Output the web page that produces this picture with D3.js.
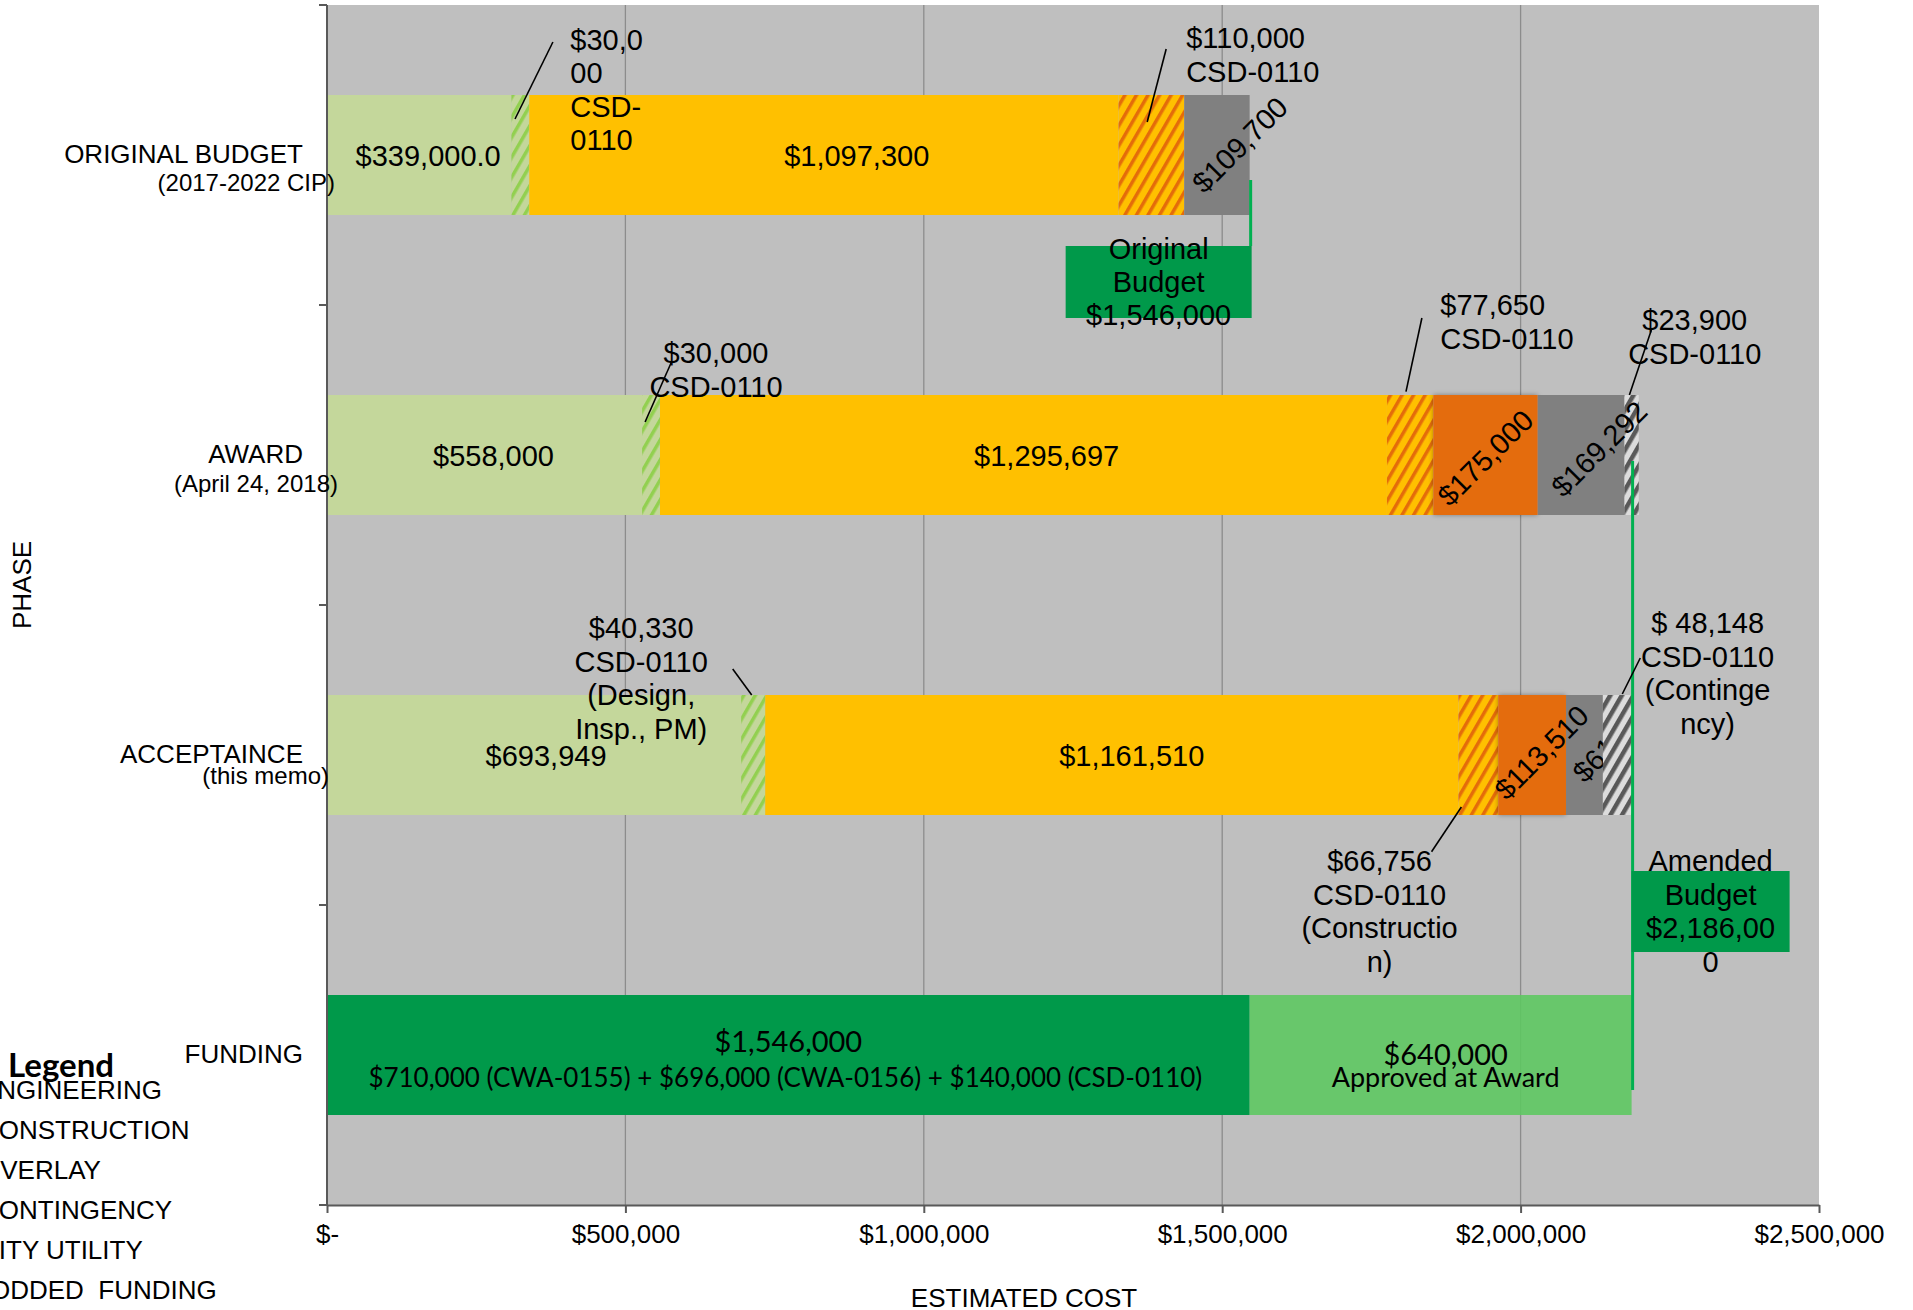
<!DOCTYPE html>
<html>
<head>
<meta charset="utf-8">
<script src="https://cdn.jsdelivr.net/npm/d3@7"></script>
<style>
  html, body { margin: 0; padding: 0; background: #fff; }
  svg { display: block; }
  text { font-family: "Liberation Sans", Arial, sans-serif; fill: #000; white-space: pre; }
  .cal { font-family: Lato, "Open Sans", sans-serif; }
</style>
</head>
<body>
<svg id="chart" width="1913" height="1310"></svg>
<script>
// ---- data -------------------------------------------------------------
const phases = ["ORIGINAL BUDGET", "AWARD", "ACCEPTAINCE", "FUNDING"];
const phaseNotes = ["(2017-2022 CIP)", "(April 24, 2018)", "(this memo)", ""];

// cost breakdown per phase (ORIGINAL BUDGET, AWARD, ACCEPTAINCE)
const engineering     = [339000, 558000, 693949];
const engineeringCSD  = [30000, 30000, 40330];
const construction    = [1097300, 1295697, 1161510];
const constructionCSD = [110000, 77650, 66756];
const overlay         = [0, 175000, 113510];
const contingency     = [109700, 169292, 61797];
const contingencyCSD  = [0, 23900, 48148];
// true when the CSD-0110 share is already part of the labelled amount
const csdIncluded     = [true, true, false];
const engDecimals     = [1, 0, 0];

const fundingSources  = [710000, 696000, 140000];
const fundingCodes    = ["CWA-0155", "CWA-0156", "CSD-0110"];
const fundingAdded    = 640000;
const originalBudget  = 1546000;
const amendedBudget   = 2186000;

const xTicks      = [0, 500000, 1000000, 1500000, 2000000, 2500000];
const xTickLabels = ["$-", "$500,000", "$1,000,000", "$1,500,000", "$2,000,000", "$2,500,000"];
const legendItems = ["ENGINEERING", "CONSTRUCTION", "OVERLAY", "CONTINGENCY", "CITY UTILITY", "ODDED  FUNDING"];

// ---- setup ------------------------------------------------------------
const svg = d3.select("#chart");
const x = d3.scaleLinear().domain([0, 2500000]).range([327, 1819]);
const y = d3.scaleBand().domain(phases).range([5, 1205]).padding(0);
const barH = y.bandwidth() * 0.4;
const yc = p => y(p) + y.bandwidth() / 2;
const fmt = d3.format("$,");
const money = (v, dec) => dec ? d3.format("$,." + dec + "f")(v) : fmt(v);

const colors = { engineering: "#C4D79B", construction: "#FFC000", overlay: "#E46C0A", contingency: "#808080" };
const hatchBase = { engineering: "#C4D79B", construction: "#FFC000", contingency: "#DCDCDC" };
const hatchStripe = { engineering: "#92D050", construction: "#E46C0A", contingency: "#595959" };
const hatchWidth = { engineering: 3.5, construction: 3.5, contingency: 4.5 };
const darkGreen = "#00994A", lineGreen = "#00B050";

const defs = svg.append("defs");
Object.keys(hatchStripe).forEach(k => {
  const p = defs.append("pattern").attr("id", "hatch-" + k)
    .attr("patternUnits", "userSpaceOnUse").attr("width", 10).attr("height", 10)
    .attr("patternTransform", "rotate(30)");
  p.append("rect").attr("width", 10).attr("height", 10).attr("fill", hatchBase[k]);
  p.append("rect").attr("width", hatchWidth[k]).attr("height", 10).attr("fill", hatchStripe[k]);
});
const sh = defs.append("filter").attr("id", "soft").attr("x", "-20%").attr("y", "-20%")
  .attr("width", "140%").attr("height", "140%");
sh.append("feDropShadow").attr("dx", 0).attr("dy", 0).attr("stdDeviation", 2.5)
  .attr("flood-color", "#000").attr("flood-opacity", 0.35);

// text measuring for wrapped labels
const meas = svg.append("text").attr("font-size", 29).attr("visibility", "hidden");
const textW = s => { meas.text(s); return meas.node().getComputedTextLength(); };
function wrapLines(text, width) {
  const lines = [];
  let cur = "";
  text.split(" ").forEach(w => {
    const trial = cur ? cur + " " + w : w;
    if (textW(trial) <= width) { cur = trial; return; }
    if (cur) { lines.push(cur); cur = ""; }
    let piece = "";
    for (const ch of w) {
      if (textW(piece + ch) <= width) piece += ch;
      else { lines.push(piece); piece = ch; }
    }
    cur = piece;
  });
  if (cur) lines.push(cur);
  return lines;
}

// ---- plot area --------------------------------------------------------
svg.append("rect").attr("x", x(0)).attr("y", 5).attr("width", x(2500000) - x(0)).attr("height", 1200)
  .attr("fill", "#BFBFBF");
svg.append("g").selectAll("line").data(xTicks.slice(1, -1)).join("line")
  .attr("x1", d => x(d)).attr("x2", d => x(d)).attr("y1", 5).attr("y2", 1205)
  .attr("stroke", "#8C8C8C").attr("stroke-width", 1.3);

// ---- stacked cost bars ------------------------------------------------
const keys = ["engineering", "construction", "overlay", "contingency"];
const totals = { engineering, construction, overlay, contingency };
const csdShare = { engineering: engineeringCSD, construction: constructionCSD, overlay: [0, 0, 0], contingency: contingencyCSD };
const segs = [], spans = [];
phases.slice(0, 3).forEach((p, i) => {
  let run = 0;
  keys.forEach(k => {
    const v = totals[k][i], c = csdShare[k][i];
    if (!v) return;
    const solid = csdIncluded[i] ? v - c : v;
    const start = run;
    segs.push({ phase: p, i, key: k, v0: run, v1: run + solid, hatch: false });
    run += solid;
    if (c) { segs.push({ phase: p, i, key: k, v0: run, v1: run + c, hatch: true }); run += c; }
    spans.push({ phase: p, i, key: k, v0: start, v1: run, solidEnd: start + solid, value: v, csd: c });
  });
});

svg.append("g").selectAll("rect").data(segs).join("rect")
  .attr("x", d => x(d.v0)).attr("width", d => x(d.v1) - x(d.v0))
  .attr("y", d => yc(d.phase) - barH / 2).attr("height", barH)
  .attr("fill", d => d.hatch ? `url(#hatch-${d.key})` : colors[d.key])
  .attr("filter", d => d.key === "overlay" ? "url(#soft)" : null);

// funding bar
const fundingTotal = d3.sum(fundingSources);
const fy = yc("FUNDING");
svg.append("rect").attr("x", x(0)).attr("width", x(fundingTotal) - x(0))
  .attr("y", fy - barH / 2).attr("height", barH).attr("fill", darkGreen);
svg.append("rect").attr("x", x(fundingTotal)).attr("width", x(fundingTotal + fundingAdded) - x(fundingTotal))
  .attr("y", fy - barH / 2).attr("height", barH).attr("fill", "#5CC860").attr("fill-opacity", 0.88);

// ---- axes -------------------------------------------------------------
const axisColor = "#595959";
svg.append("line").attr("x1", x(0)).attr("x2", x(0)).attr("y1", 5).attr("y2", 1205)
  .attr("stroke", axisColor).attr("stroke-width", 2);
svg.append("g").selectAll("line").data([...phases.map(p => y(p)), 1205]).join("line")
  .attr("x1", x(0) - 8).attr("x2", x(0)).attr("y1", d => d).attr("y2", d => d)
  .attr("stroke", axisColor).attr("stroke-width", 2);

const xAxis = svg.append("g").attr("transform", "translate(0,1205)")
  .call(d3.axisBottom(x).tickValues(xTicks).tickFormat((d, i) => xTickLabels[i]).tickSize(8).tickSizeOuter(0));
xAxis.select(".domain").attr("stroke", axisColor).attr("stroke-width", 2);
xAxis.selectAll(".tick line").attr("stroke", axisColor).attr("stroke-width", 2);
xAxis.selectAll(".tick text").attr("font-size", 26).attr("font-family", "Liberation Sans, Arial, sans-serif")
  .attr("fill", "#000").attr("y", 38).attr("dy", null);

// ---- budget markers ---------------------------------------------------
const boxes = [
  { value: originalBudget, title: "Original Budget", wrap: 170, side: "left", w: 186,
    top: yc(phases[0]) + 91, h: 72, lineFrom: yc(phases[0]) + 25, lineTo: yc(phases[0]) + 91, lh: 33, textTop: 13 },
  { value: amendedBudget, title: "Amended Budget", wrap: 140, side: "right", w: 158,
    top: yc(phases[2]) + 116, h: 81, lineFrom: yc(phases[1]) + 6, lineTo: fy + 35, lh: 33.7, textTop: 0 }
];
boxes.forEach(b => {
  const xv = x(b.value);
  const bx = b.side === "left" ? xv + 2 - b.w : xv;
  svg.append("line").attr("x1", xv + 1).attr("x2", xv + 1).attr("y1", b.lineFrom).attr("y2", b.lineTo)
    .attr("stroke", lineGreen).attr("stroke-width", 3);
  svg.append("rect").attr("x", bx).attr("y", b.top).attr("width", b.w).attr("height", b.h).attr("fill", darkGreen);
  const lines = wrapLines(b.title + " " + fmt(b.value), b.wrap);
  svg.append("text").attr("font-size", 29).attr("text-anchor", "middle")
    .selectAll("tspan").data(lines).join("tspan")
    .attr("x", bx + b.w / 2).attr("y", (d, k) => b.top + b.textTop + k * b.lh).text(d => d);
});

// ---- value labels -----------------------------------------------------
const labelG = svg.append("g").attr("font-size", 29);
spans.filter(s => s.key === "engineering" || s.key === "construction").forEach(s => {
  labelG.append("text").attr("text-anchor", "middle")
    .attr("x", (x(s.v0) + x(s.v1)) / 2).attr("y", yc(s.phase) + 10.5)
    .text(money(s.value, s.key === "engineering" ? engDecimals[s.i] : 0));
});

const rotOffsets = { overlay: [null, [0, 3], [9.5, -2.5]], contingency: [[23, -10], [11, -6], [16, -15]] };
spans.filter(s => s.key === "overlay" || s.key === "contingency").forEach((s, n) => {
  const off = rotOffsets[s.key][s.i];
  const cx = x((s.v0 + s.v1) / 2) + off[0], cy = yc(s.phase) + off[1];
  let clip = null;
  if (!csdIncluded[s.i] && s.csd) {
    const id = "clip-" + n;
    defs.append("clipPath").attr("id", id).append("rect")
      .attr("x", x(s.v0)).attr("width", x(s.solidEnd) - x(s.v0))
      .attr("y", yc(s.phase) - barH / 2 - 40).attr("height", barH + 80);
    clip = `url(#${id})`;
  }
  labelG.append("g").attr("clip-path", clip).append("text")
    .attr("text-anchor", "middle").attr("dominant-baseline", "central")
    .attr("transform", `translate(${cx},${cy}) rotate(-45)`)
    .text(fmt(s.value));
});

// ---- CSD-0110 callouts ------------------------------------------------
const csdCode = "CSD-0110";
const callouts = [
  { i: 0, key: "engineering",  wrap: 75,  anchor: "start",  lx: 41,     ly: -105.5, near: [-14.3, -36],  far: [23.6, -113] },
  { i: 0, key: "construction", wrap: 140, anchor: "start",  lx: 2,      ly: -107,   near: [-37, -33],    far: [-18, -106] },
  { i: 1, key: "engineering",  wrap: 140, anchor: "middle", lx: 56,     ly: -92,    near: [-16.5, -33],  far: [11, -92] },
  { i: 1, key: "construction", wrap: 140, anchor: "start",  lx: 7,      ly: -140,   near: [-27.3, -63.3], far: [-11.4, -137] },
  { i: 1, key: "contingency",  wrap: 140, anchor: "middle", lx: 56,     ly: -125,   near: [-9.4, -60],   far: [12.6, -125] },
  { i: 2, key: "engineering",  wrap: 140, anchor: "middle", lx: -124,   ly: -117,   near: [-13.5, -60],  far: [-32.5, -86], note: "(Design, Insp., PM)" },
  { i: 2, key: "construction", wrap: 160, anchor: "middle", lx: -118.7, ly: 116,    near: [-47.2, 52],   far: [-66.7, 96.7], note: "(Construction)" },
  { i: 2, key: "contingency",  wrap: 137, anchor: "middle", lx: 76,     ly: -122,   near: [-9.3, -61],   far: [8.7, -97], note: "(Contingency)", spaced: true }
];
const calloutG = svg.append("g");
callouts.forEach(c => {
  const s = spans.find(d => d.i === c.i && d.key === c.key);
  const xe = x(s.v1), cy = yc(s.phase);
  const amount = c.spaced ? "$ " + d3.format(",")(s.csd) : fmt(s.csd);
  const lines = wrapLines([amount, csdCode, c.note].filter(Boolean).join(" "), c.wrap);
  calloutG.append("text").attr("font-size", 29).attr("text-anchor", c.anchor)
    .selectAll("tspan").data(lines).join("tspan")
    .attr("x", xe + c.lx).attr("y", (d, k) => cy + c.ly + k * 33.5).text(d => d);
  const nx = Math.max(x(s.solidEnd) + 3, xe + c.near[0]);
  calloutG.append("line").attr("x1", nx).attr("y1", cy + c.near[1])
    .attr("x2", xe + c.far[0]).attr("y2", cy + c.far[1])
    .attr("stroke", "#000").attr("stroke-width", 1.6);
});

// ---- funding labels ---------------------------------------------------
svg.append("text").attr("class", "cal").attr("font-size", 29).attr("text-anchor", "middle")
  .attr("x", (x(0) + x(fundingTotal)) / 2).attr("y", fy - 3).text(fmt(fundingTotal));
svg.append("text").attr("class", "cal").attr("font-size", 26).attr("text-anchor", "middle")
  .attr("x", (x(0) + x(fundingTotal)) / 2 - 3).attr("y", fy + 32)
  .text(fundingSources.map((v, k) => `${fmt(v)} (${fundingCodes[k]})`).join(" + "));
const addMid = (x(fundingTotal) + x(fundingTotal + fundingAdded)) / 2 + 5;
svg.append("text").attr("class", "cal").attr("font-size", 29).attr("text-anchor", "middle")
  .attr("x", addMid).attr("y", fy + 10).text(fmt(fundingAdded));
svg.append("text").attr("class", "cal").attr("font-size", 27).attr("text-anchor", "middle")
  .attr("x", addMid).attr("y", fy + 32).text("Approved at Award");

// ---- category labels --------------------------------------------------
const noteLayout = [[8, 36], [11, 37], [2, 28.5]];
phases.forEach((p, i) => {
  svg.append("text").attr("font-size", 26).attr("text-anchor", "end")
    .attr("x", x(0) - 24).attr("y", yc(p) + 7.5).text(p);
  if (phaseNotes[i]) {
    svg.append("text").attr("font-size", 24).attr("text-anchor", "end")
      .attr("x", x(0) + noteLayout[i][0]).attr("y", yc(p) + noteLayout[i][1]).text(phaseNotes[i]);
  }
});

// axis titles
svg.append("text").attr("font-size", 26).attr("text-anchor", "middle")
  .attr("transform", "translate(31,585) rotate(-90)").text("PHASE");
svg.append("text").attr("font-size", 26).attr("text-anchor", "middle")
  .attr("x", 1024).attr("y", 1307).text("ESTIMATED COST");

// ---- legend -----------------------------------------------------------
svg.append("text").attr("class", "cal").attr("font-size", 33).attr("font-weight", "bold")
  .attr("x", 8).attr("y", 1077).text("Legend");
svg.append("g").selectAll("text").data(legendItems).join("text")
  .attr("font-size", 26).attr("x", (d, k) => k === legendItems.length - 1 ? -10 : -20)
  .attr("y", (d, k) => 1099 + k * 40).text(d => d);
</script>
</body>
</html>
